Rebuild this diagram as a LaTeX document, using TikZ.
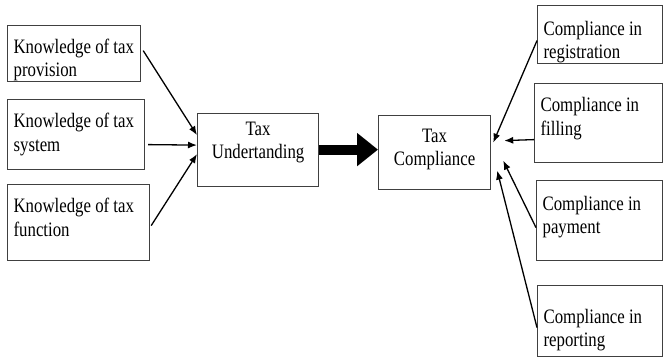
\documentclass[tikz,border=0pt]{standalone}
\usepackage{fontspec}
\setmainfont{Liberation Serif}[FakeStretch=0.82]
\usepackage{tikz}
\usetikzlibrary{arrows.meta}
\tikzset{
  box/.style={rectangle,draw=black!75,line width=1.2pt,inner xsep=6pt,inner ysep=0pt,
    anchor=north west,font=\fontsize{20.5}{23.5}\selectfont},
  lbox/.style={box,align=flush left},
  cbox/.style={box,align=flush center},
  tdown/.style={execute at begin node={\rule{0pt}{#1}}},
  tup/.style={execute at end node={\rule[-#1]{0pt}{0pt}}},
  arr/.style={line width=1.3pt,-{Latex[length=9pt,width=7pt]}},
  bigarr/.style={line width=10pt,-{Triangle[length=21pt,width=32pt]}}
}

\begin{document}
\begin{tikzpicture}[x=1pt,y=-1pt]
\useasboundingbox (0,0) rectangle (663,357);
% factors
\node[lbox,minimum width=133pt,minimum height=56pt,text width=121pt,tdown=27pt] (prov) at (7,25) {Knowledge of tax\\provision};
\node[lbox,minimum width=137pt,minimum height=70pt,text width=125pt] (sys) at (7,99) {Knowledge of tax\\system};
\node[lbox,minimum width=142pt,minimum height=76pt,text width=130pt,tup=11pt] (func) at (7,184) {Knowledge of tax\\function};
% middle
\node[cbox,minimum width=121pt,minimum height=73pt,text width=109pt,tup=20pt] (tu) at (197,113) {Tax\\Undertanding};
\node[cbox,minimum width=112pt,minimum height=74pt,text width=100pt,tup=10.5pt] (tc) at (378,115) {Tax\\Compliance};
% compliance areas
\node[lbox,minimum width=125pt,minimum height=58pt,text width=113pt,tdown=29pt] (reg) at (537,5) {Compliance in\\registration};
\node[lbox,minimum width=128pt,minimum height=79pt,text width=116pt,tup=13.5pt] (fil) at (534,83) {Compliance in\\filling};
\node[lbox,minimum width=126pt,minimum height=80pt,text width=114pt,tup=11.5pt] (pay) at (536,180) {Compliance in\\payment};
\node[lbox,minimum width=125pt,minimum height=71pt,text width=113pt,tdown=32pt] (rep) at (537,285) {Compliance in\\reporting};
\draw[arr] ([xshift=2pt,yshift=3pt]prov.east) -- ([yshift=15pt]tu.west);
\draw[arr] ([xshift=3pt,yshift=-10pt]sys.east) -- ([yshift=5pt]tu.west);
\draw[arr] ([xshift=1pt,yshift=-3pt]func.east) -- ([yshift=-4pt]tu.west);
\draw[bigarr] ([yshift=0.5pt]tu.east) -- ([yshift=0.5pt]tu.east -| tc.west);
\draw[arr] ([yshift=-6pt]reg.west) -- ([xshift=2pt,yshift=10pt]tc.east);
\draw[arr] ([yshift=-16.5pt]fil.west) -- ([xshift=13pt,yshift=12pt]tc.east);
\draw[arr] ([yshift=-7pt]pay.west) -- ([xshift=12pt,yshift=-8pt]tc.east);
\draw[arr] ([yshift=-6.5pt]rep.west) -- ([xshift=6pt,yshift=-18pt]tc.east);
\end{tikzpicture}
\end{document}
